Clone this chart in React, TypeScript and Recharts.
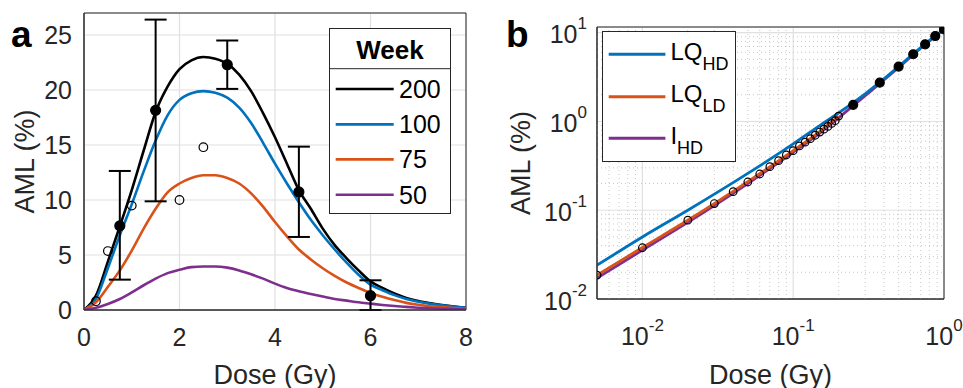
import {
  ComposedChart,
  Line,
  Scatter,
  ErrorBar,
  XAxis,
  YAxis,
  CartesianGrid,
  ReferenceLine,
  ReferenceArea,
  Legend,
  Customized
} from 'recharts'

// ---- panel a: AML vs dose, by week ----
const doseA = [0, 0.25, 0.5, 0.75, 1, 1.25, 1.5, 1.75, 2, 2.25, 2.5, 2.75, 3, 3.25, 3.5, 3.75, 4, 4.25, 4.5, 4.75, 5, 5.25, 5.5, 5.75, 6, 6.25, 6.5, 6.75, 7, 7.25, 7.5, 7.75, 8]
const week200 = [0, 1.3, 4.4, 7.6, 10.9, 14.5, 18.0, 20.3, 21.9, 22.7, 23.0, 22.85, 22.4, 21.4, 19.9, 17.9, 15.7, 13.3, 10.9, 9.2, 7.4, 5.9, 4.7, 3.6, 2.6, 2.0, 1.5, 1.1, 0.82, 0.62, 0.46, 0.32, 0.2]
const week100 = [0, 1.0, 3.8, 6.8, 9.6, 12.6, 15.4, 17.7, 19.1, 19.7, 19.9, 19.75, 19.3, 18.4, 17.0, 15.2, 13.3, 11.5, 9.8, 8.2, 6.8, 5.5, 4.3, 3.2, 2.3, 1.8, 1.35, 1.0, 0.75, 0.56, 0.42, 0.3, 0.2]
const week75 = [0, 0.7, 2.1, 3.6, 5.4, 7.4, 9.2, 10.7, 11.5, 12.0, 12.25, 12.25, 12.0, 11.5, 10.6, 9.4, 8.0, 6.7, 5.5, 4.6, 3.8, 3.1, 2.5, 2.0, 1.55, 1.2, 0.9, 0.65, 0.47, 0.34, 0.25, 0.17, 0.12]
const week50 = [0, 0.2, 0.55, 1.0, 1.6, 2.25, 2.85, 3.35, 3.65, 3.9, 3.95, 3.95, 3.85, 3.6, 3.25, 2.85, 2.4, 2.0, 1.7, 1.45, 1.22, 1.0, 0.85, 0.7, 0.58, 0.46, 0.36, 0.28, 0.21, 0.16, 0.12, 0.09, 0.07]

const measuredDose = [0.75, 1.5, 3, 4.5, 6]
const measuredAml = [7.65, 18.15, 22.3, 10.73, 1.3]
const measuredLow = [2.76, 9.88, 20.1, 6.64, 0]
const measuredHigh = [12.64, 26.4, 24.5, 14.85, 2.7]

const openDose = [0.25, 0.5, 1, 2, 2.5]
const openAml = [0.8, 5.36, 9.49, 10.0, 14.8]

const weekLabels = ['200', '100', '75', '50']
const weekColors = ['#000000', '#0072BD', '#D95319', '#7E2F8E']

// ---- panel b: low dose, log-log ----
const doseB = [0.005, 0.01, 0.02, 0.05, 0.1, 0.15, 0.2, 0.3, 0.5, 0.7, 1]
const lqHD = [0.024, 0.05, 0.1, 0.26, 0.56, 0.9, 1.25, 2.05, 4.15, 6.8, 10.9]
const lqLD = [0.0186, 0.038, 0.077, 0.21, 0.47, 0.77, 1.15, null, null, null, null]
const iHD = [0.0172, 0.0355, 0.073, 0.2, 0.45, 0.74, 1.1, 1.95, 4.05, 6.7, 10.9]

const ldDose = [0.005, 0.01, 0.02, 0.03, 0.04, 0.05, 0.06, 0.07, 0.08, 0.09, 0.1, 0.11, 0.12, 0.13, 0.14, 0.15, 0.16, 0.17, 0.18, 0.19, 0.2]
const ldAml = [0.0186, 0.0378, 0.0772, 0.119, 0.162, 0.208, 0.256, 0.31, 0.362, 0.419, 0.469, 0.53, 0.585, 0.64, 0.7, 0.76, 0.82, 0.88, 0.95, 1.02, 1.15]
const hdDose = [0.25, 0.375, 0.5, 0.625, 0.75, 0.875, 1]
const hdAml = [1.54, 2.74, 4.15, 5.72, 7.41, 9.18, 10.9]

const minorX = [0.006, 0.007, 0.008, 0.009, 0.02, 0.03, 0.04, 0.05, 0.06, 0.07, 0.08, 0.09, 0.2, 0.3, 0.4, 0.5, 0.6, 0.7, 0.8, 0.9]
const minorY = [0.02, 0.03, 0.04, 0.05, 0.06, 0.07, 0.08, 0.09, 0.2, 0.3, 0.4, 0.5, 0.6, 0.7, 0.8, 0.9, 2, 3, 4, 5, 6, 7, 8, 9]

const modelLabels = [['LQ', 'HD'], ['LQ', 'LD'], ['I', 'HD']]
const modelColors = ['#0072BD', '#D95319', '#7E2F8E']

const TEXT = '#262626'
const GRID = '#e0e0e0'

const curveRows = doseA.map((dose, i) => ({ dose, w200: week200[i], w100: week100[i], w75: week75[i], w50: week50[i] }))
const measuredRows = measuredDose.map((dose, i) => ({
  dose,
  aml: measuredAml[i],
  err: [measuredAml[i] - measuredLow[i], measuredHigh[i] - measuredAml[i]]
}))
const openRows = openDose.map((dose, i) => ({ dose, aml: openAml[i] }))

const modelRows = doseB.map((dose, i) => ({ dose, lqHD: lqHD[i], lqLD: lqLD[i], iHD: iHD[i] }))
const ldRows = ldDose.map((dose, i) => ({ dose, aml: ldAml[i] }))
const hdRows = hdDose.map((dose, i) => ({ dose, aml: hdAml[i] }))

const circle = (r: number, fill: string) => (props: any) => (
  <circle cx={props.cx} cy={props.cy} r={r} fill={fill} stroke="#000" strokeWidth={1.2} />
)

const LogTickX = (props: any) => {
  const { x, y, payload } = props
  const exp = Math.round(Math.log10(payload.value))
  return (
    <text x={x} y={y + 46} textAnchor="middle" fill={TEXT} fontSize={25}>
      10<tspan dy={-14} fontSize={17}>{exp}</tspan>
    </text>
  )
}

const LogTickY = (props: any) => {
  const { x, y, payload } = props
  const exp = Math.round(Math.log10(payload.value))
  return (
    <text x={x} y={y + 10.5} textAnchor="end" fill={TEXT} fontSize={25}>
      10<tspan dy={-14} fontSize={17}>{exp}</tspan>
    </text>
  )
}

const WeekLegend = () => (
  <svg width={122} height={186} style={{ display: 'block' }}>
    <rect x={0.5} y={0.5} width={121} height={185} fill="#fff" stroke={TEXT} />
    <line x1={0} x2={122} y1={40.7} y2={40.7} stroke={TEXT} />
    <text x={61} y={30.7} textAnchor="middle" fontWeight="bold" fontSize={26} fill="#000">Week</text>
    {weekLabels.map((label, i) => {
      const cy = [61, 96.4, 131.4, 166.7][i]
      return (
        <g key={label}>
          <line x1={6.7} x2={64.7} y1={cy} y2={cy} stroke={weekColors[i]} strokeWidth={2.6} />
          <text x={70} y={cy + 9} fontSize={25} fill="#000">{label}</text>
        </g>
      )
    })}
  </svg>
)

const ModelLegend = () => (
  <svg width={134} height={131} style={{ display: 'block' }}>
    <rect x={0.5} y={0.5} width={133} height={130} fill="#fff" stroke={TEXT} />
    {modelLabels.map(([main, sub], i) => {
      const cy = [23.3, 65.7, 107.3][i]
      return (
        <g key={main + sub}>
          <line x1={6.7} x2={63.4} y1={cy} y2={cy} stroke={modelColors[i]} strokeWidth={3} />
          <text x={68.4} y={cy + 5.5} fontSize={24} fill="#000">
            {main}<tspan dy={10} fontSize={18}>{sub}</tspan>
          </text>
        </g>
      )
    })}
  </svg>
)

const TextA = () => (
  <g>
    <text x={11} y={47} fontSize={37} fontWeight="bold" fill="#000">a</text>
    <text x={275} y={383.5} textAnchor="middle" fontSize={27} fill={TEXT}>Dose (Gy)</text>
    <text transform="translate(33.5,161.5) rotate(-90)" textAnchor="middle" fontSize={27} fill={TEXT}>AML (%)</text>
  </g>
)

const TextB = () => (
  <g>
    <text x={26} y={47} fontSize={37} fontWeight="bold" fill="#000">b</text>
    <text x={290.5} y={383.5} textAnchor="middle" fontSize={27} fill={TEXT}>Dose (Gy)</text>
    <text transform="translate(50,163) rotate(-90)" textAnchor="middle" fontSize={27} fill={TEXT}>AML (%)</text>
  </g>
)

const App = () => {
  return (
    <div style={{ position: 'absolute', left: 0, top: 0, width: 963, height: 388, background: '#fff', fontFamily: '"Liberation Sans", Arial, sans-serif', overflow: 'hidden' }}>
      {/* panel a */}
      <div style={{ position: 'absolute', left: 0, top: 0 }}>
        <ComposedChart width={480} height={388} data={curveRows} margin={{ top: 13, right: 14, bottom: 0, left: 0 }}>
          <CartesianGrid stroke={GRID} strokeWidth={1.2} />
          <XAxis
            type="number"
            dataKey="dose"
            domain={[0, 8]}
            ticks={[0, 2, 4, 6, 8]}
            allowDataOverflow
            height={78}
            tickSize={0}
            tickMargin={18}
            tickLine={false}
            axisLine={{ stroke: TEXT }}
            tick={{ fill: TEXT, fontSize: 25 }}
          />
          <YAxis
            type="number"
            domain={[0, 27]}
            ticks={[0, 5, 10, 15, 20, 25]}
            allowDataOverflow
            width={84}
            tickSize={0}
            tickMargin={12}
            tickLine={false}
            axisLine={{ stroke: TEXT }}
            tick={{ fill: TEXT, fontSize: 25 }}
          />
          <ReferenceArea x1={0} x2={8} y1={0} y2={27} fill="none" stroke={TEXT} strokeWidth={1} />
          <Line type="monotone" dataKey="w200" stroke={weekColors[0]} strokeWidth={2.6} dot={false} isAnimationActive={false} />
          <Line type="monotone" dataKey="w100" stroke={weekColors[1]} strokeWidth={2.6} dot={false} isAnimationActive={false} />
          <Line type="monotone" dataKey="w75" stroke={weekColors[2]} strokeWidth={2.6} dot={false} isAnimationActive={false} />
          <Line type="monotone" dataKey="w50" stroke={weekColors[3]} strokeWidth={2.6} dot={false} isAnimationActive={false} />
          <Scatter data={openRows} dataKey="aml" shape={circle(4.3, 'none')} isAnimationActive={false} />
          <Scatter data={measuredRows} dataKey="aml" shape={circle(5, '#000')} isAnimationActive={false}>
            <ErrorBar dataKey="err" direction="y" width={11} stroke="#000" strokeWidth={2} isAnimationActive={false} />
          </Scatter>
          <Legend
            layout="horizontal"
            verticalAlign="middle"
            align="center"
            wrapperStyle={{ left: 329, top: 28, width: 122, height: 186 }}
            content={() => <WeekLegend />}
          />
          <Customized component={TextA} />
        </ComposedChart>
      </div>

      {/* panel b */}
      <div style={{ position: 'absolute', left: 480, top: 0 }}>
        <ComposedChart width={483} height={388} data={modelRows} margin={{ top: 27, right: 19, bottom: 0, left: 0 }}>
          <CartesianGrid stroke={GRID} strokeWidth={1.2} />
          {minorX.map((v) => (
            <ReferenceLine key={'x' + v} x={v} stroke="#c8c8c8" strokeDasharray="1 3" />
          ))}
          {minorY.map((v) => (
            <ReferenceLine key={'y' + v} y={v} stroke="#c8c8c8" strokeDasharray="1 3" />
          ))}
          <XAxis
            type="number"
            dataKey="dose"
            scale="log"
            domain={[0.005, 1]}
            ticks={[0.01, 0.1, 1]}
            allowDataOverflow
            height={89}
            tickSize={0}
            tickMargin={0}
            tickLine={false}
            axisLine={{ stroke: TEXT }}
            tick={<LogTickX />}
          />
          <YAxis
            type="number"
            scale="log"
            domain={[0.01, 11.6]}
            ticks={[0.01, 0.1, 1, 10]}
            allowDataOverflow
            width={117}
            tickSize={0}
            tickMargin={10}
            tickLine={false}
            axisLine={{ stroke: TEXT }}
            tick={<LogTickY />}
          />
          <ReferenceArea x1={0.005} x2={1} y1={0.01} y2={11.6} fill="none" stroke={TEXT} strokeWidth={1} />
          <Line type="monotone" dataKey="iHD" stroke={modelColors[2]} strokeWidth={2.8} dot={false} isAnimationActive={false} />
          <Line type="monotone" dataKey="lqLD" stroke={modelColors[1]} strokeWidth={2.8} dot={false} isAnimationActive={false} />
          <Line type="monotone" dataKey="lqHD" stroke={modelColors[0]} strokeWidth={2.8} dot={false} isAnimationActive={false} />
          <Scatter data={ldRows} dataKey="aml" shape={circle(3.8, 'none')} isAnimationActive={false} />
          <Scatter data={hdRows} dataKey="aml" shape={circle(4.5, '#000')} isAnimationActive={false} />
          <Legend
            layout="horizontal"
            verticalAlign="middle"
            align="center"
            wrapperStyle={{ left: 122, top: 31, width: 134, height: 131 }}
            content={() => <ModelLegend />}
          />
          <Customized component={TextB} />
        </ComposedChart>
      </div>
    </div>
  )
}

export default App
